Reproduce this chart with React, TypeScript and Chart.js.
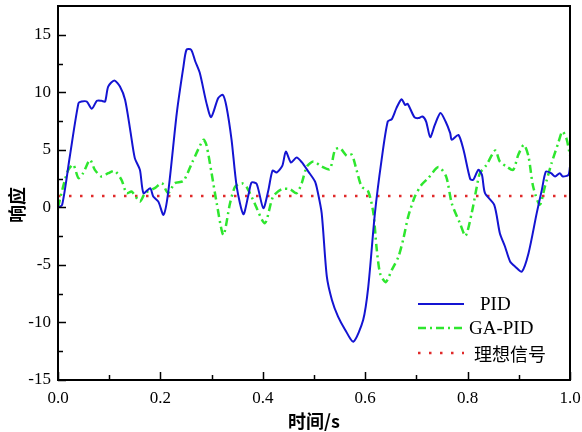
import React, { useEffect, useRef } from "react";
import { Chart, registerables } from "chart.js";
Chart.register(...registerables);

const pidT = [0.000, 0.008, 0.023, 0.040, 0.046, 0.056, 0.066, 0.076, 0.085, 0.092, 0.098, 0.110, 0.121, 0.131, 0.141, 0.150, 0.160, 0.167, 0.180, 0.186, 0.196, 0.206, 0.215, 0.232, 0.245, 0.251, 0.260, 0.268, 0.277, 0.290, 0.299, 0.313, 0.322, 0.329, 0.339, 0.349, 0.362, 0.372, 0.378, 0.388, 0.401, 0.411, 0.419, 0.427, 0.438, 0.445, 0.455, 0.466, 0.476, 0.489, 0.502, 0.507, 0.515, 0.525, 0.535, 0.547, 0.561, 0.577, 0.596, 0.606, 0.619, 0.632, 0.644, 0.652, 0.661, 0.671, 0.678, 0.683, 0.696, 0.704, 0.712, 0.719, 0.727, 0.736, 0.747, 0.757, 0.766, 0.769, 0.782, 0.792, 0.805, 0.811, 0.821, 0.828, 0.834, 0.852, 0.863, 0.873, 0.883, 0.893, 0.906, 0.919, 0.935, 0.945, 0.953, 0.963, 0.971, 0.980, 0.986, 0.997, 1.000];
const pidY = [0.0, 0.2, 4.4, 9.06, 9.2, 9.2, 8.57, 9.26, 9.26, 9.2, 10.5, 11.03, 10.5, 9.35, 6.74, 4.28, 3.26, 1.23, 1.67, 0.94, 0.5, -0.65, 1.23, 8.2, 12.24, 13.7, 13.7, 12.7, 11.67, 9.06, 7.84, 9.5, 9.78, 8.77, 5.87, 1.81, -0.59, 1.09, 2.16, 2.04, -0.07, 1.52, 3.2, 3.03, 3.6, 4.85, 3.9, 4.33, 3.93, 3.11, 2.25, 1.4, -0.5, -6.0, -8.04, -9.5, -10.65, -11.67, -9.78, -6.9, -0.5, 4.13, 7.46, 7.67, 8.63, 9.4, 8.9, 9.0, 7.84, 7.76, 7.9, 7.46, 6.1, 7.17, 8.2, 7.46, 6.45, 5.87, 6.3, 5.0, 2.48, 2.39, 3.26, 2.83, 1.23, 0.22, -2.24, -3.4, -4.7, -5.15, -5.58, -3.98, -0.5, 1.52, 3.11, 2.97, 2.68, 2.97, 2.68, 2.83, 3.55];

const gaT = [0.000, 0.010, 0.020, 0.030, 0.040, 0.049, 0.0625, 0.072, 0.085, 0.098, 0.111, 0.124, 0.134, 0.144, 0.160, 0.170, 0.189, 0.203, 0.215, 0.228, 0.245, 0.262, 0.284, 0.290, 0.300, 0.310, 0.323, 0.336, 0.346, 0.359, 0.368, 0.381, 0.404, 0.420, 0.437, 0.453, 0.466, 0.476, 0.486, 0.499, 0.515, 0.531, 0.541, 0.551, 0.564, 0.574, 0.583, 0.593, 0.606, 0.616, 0.622, 0.629, 0.640, 0.652, 0.665, 0.674, 0.684, 0.697, 0.710, 0.723, 0.743, 0.758, 0.769, 0.785, 0.796, 0.808, 0.818, 0.824, 0.837, 0.854, 0.863, 0.876, 0.889, 0.899, 0.910, 0.919, 0.928, 0.941, 0.951, 0.964, 0.977, 0.985, 0.993, 1.000];
const gaY = [0.0, 1.8, 3.26, 3.7, 2.54, 2.97, 4.13, 3.26, 2.68, 2.97, 3.17, 2.39, 1.23, 1.37, 0.5, 1.23, 1.67, 2.1, 1.23, 2.1, 2.3, 3.9, 5.87, 5.4, 2.97, 0.36, -2.4, 0.36, 1.8, 2.1, 1.8, 0.65, -1.37, 0.94, 1.58, 1.58, 1.23, 2.1, 3.55, 3.98, 3.55, 3.32, 5.0, 5.15, 4.48, 4.57, 3.26, 1.81, 1.37, -0.5, -3.4, -5.72, -6.5, -5.43, -4.28, -2.83, -0.8, 0.94, 1.96, 2.54, 3.5, 2.7, 0.36, -1.37, -2.48, -0.5, 1.81, 2.97, 3.7, 4.94, 3.98, 3.55, 3.26, 4.57, 5.43, 4.42, 1.81, 0.22, 1.81, 3.84, 5.58, 6.6, 6.0, 4.5];

const idealT = [0, 1];
const idealY = [1, 1];

const seriesNames = ["PID", "GA-PID", "理想信号"];
const xTitle = "时间/s";
const yTitle = "响应";
const xMajor = [0, 0.2, 0.4, 0.6, 0.8, 1.0];
const xMinor = [0.1, 0.3, 0.5, 0.7, 0.9];
const yMajor = [-15, -10, -5, 0, 5, 10, 15];
const yMinor = [-12.5, -7.5, -2.5, 2.5, 7.5, 12.5];

const serif = "'Liberation Serif', 'Times New Roman', serif";
const cjk = "'Noto Sans CJK SC', sans-serif";

const colors = ["#1414d2", "#2ee62e", "#e02a2a"];
const dashes: number[][] = [[], [8, 4, 2, 4], [2.5, 8.5]];
const widths = [2, 2.5, 2.5];

const toPts = (t: number[], y: number[]) => t.map((v, i) => ({ x: v, y: y[i] }));

const framePlugin = {
  id: "frameTicks",
  afterDraw(chart: any) {
    const { ctx, chartArea: a, scales } = chart;
    const xs = scales.x;
    const ys = scales.y;
    ctx.save();
    ctx.strokeStyle = "#000";
    ctx.lineWidth = 1.5;
    ctx.beginPath();
    xMajor.forEach((v) => {
      const p = Math.round(xs.getPixelForValue(v)) + 0.5;
      ctx.moveTo(p, a.bottom);
      ctx.lineTo(p, a.bottom - 8);
    });
    xMinor.forEach((v) => {
      const p = Math.round(xs.getPixelForValue(v)) + 0.5;
      ctx.moveTo(p, a.bottom);
      ctx.lineTo(p, a.bottom - 5);
    });
    yMajor.forEach((v) => {
      const p = Math.round(ys.getPixelForValue(v)) + 0.5;
      ctx.moveTo(a.left, p);
      ctx.lineTo(a.left + 8, p);
    });
    yMinor.forEach((v) => {
      const p = Math.round(ys.getPixelForValue(v)) + 0.5;
      ctx.moveTo(a.left, p);
      ctx.lineTo(a.left + 5, p);
    });
    ctx.stroke();
    ctx.lineWidth = 2;
    ctx.strokeRect(a.left, a.top, a.right - a.left, a.bottom - a.top);

    // legend
    const lx0 = a.left + 360;
    const lx1 = a.left + 406;
    const rows = [a.top + 298, a.top + 322, a.top + 347];
    const textX = [a.left + 422, a.left + 411, a.left + 416];
    rows.forEach((yy, i) => {
      ctx.beginPath();
      ctx.strokeStyle = colors[i];
      ctx.lineWidth = widths[i];
      ctx.setLineDash(dashes[i]);
      ctx.moveTo(lx0, yy);
      ctx.lineTo(lx1, yy);
      ctx.stroke();
      ctx.setLineDash([]);
      ctx.fillStyle = "#000";
      ctx.textBaseline = "middle";
      ctx.textAlign = "left";
      ctx.font = i === 2 ? `18px ${cjk}` : `19px ${serif}`;
      ctx.fillText(seriesNames[i], textX[i], yy + 1);
    });

    // y title
    ctx.save();
    ctx.translate(17, 205);
    ctx.rotate(-Math.PI / 2);
    ctx.font = `bold 18px ${cjk}`;
    ctx.textAlign = "center";
    ctx.textBaseline = "middle";
    ctx.fillStyle = "#000";
    ctx.fillText(yTitle, 0, 0);
    ctx.restore();
    ctx.restore();
  },
};

export default function App() {
  const ref = useRef<HTMLCanvasElement | null>(null);
  useEffect(() => {
    if (!ref.current) return;
    const chart = new Chart(ref.current, {
      type: "line",
      data: {
        datasets: [
          { label: seriesNames[0], data: toPts(pidT, pidY), borderColor: colors[0], borderWidth: widths[0], pointRadius: 0, tension: 0.25, fill: false },
          { label: seriesNames[1], data: toPts(gaT, gaY), borderColor: colors[1], borderWidth: widths[1], borderDash: dashes[1], pointRadius: 0, tension: 0.25, fill: false },
          { label: seriesNames[2], data: toPts(idealT, idealY), borderColor: colors[2], borderWidth: widths[2], borderDash: dashes[2], pointRadius: 0, fill: false },
        ],
      },
      options: {
        animation: false,
        responsive: false,
        layout: { padding: { left: 0, right: 12, top: 6, bottom: 0 } },
        plugins: { legend: { display: false }, tooltip: { enabled: false } },
        scales: {
          x: {
            type: "linear",
            min: 0,
            max: 1,
            grid: { display: false, drawTicks: false },
            border: { display: false },
            ticks: {
              stepSize: 0.2,
              padding: 8,
              color: "#000",
              font: { family: serif, size: 17 },
              callback: (v: any) => Number(v).toFixed(1),
            },
            title: { display: true, text: xTitle, color: "#000", font: { family: cjk, size: 18, weight: "bold" }, padding: { top: 0, bottom: 0 } },
            afterFit: (s: any) => { s.height = 52; s.paddingLeft = 0; s.paddingRight = 0; },
          },
          y: {
            type: "linear",
            min: -15,
            max: 17.5,
            grid: { display: false, drawTicks: false },
            border: { display: false },
            ticks: {
              stepSize: 5,
              includeBounds: false,
              padding: 7,
              color: "#000",
              font: { family: serif, size: 17 },
              callback: (v: any) => String(v),
            },
            afterFit: (s: any) => { s.width = 58; s.paddingTop = 0; s.paddingBottom = 0; },
          },
        },
      },
      plugins: [framePlugin],
    } as any);
    return () => chart.destroy();
  }, []);
  return (
    <div style={{ position: "fixed", left: 0, top: 0, width: 582, height: 432, background: "#fff" }}>
      <canvas ref={ref} width={582} height={432} style={{ width: 582, height: 432 }} />
    </div>
  );
}
